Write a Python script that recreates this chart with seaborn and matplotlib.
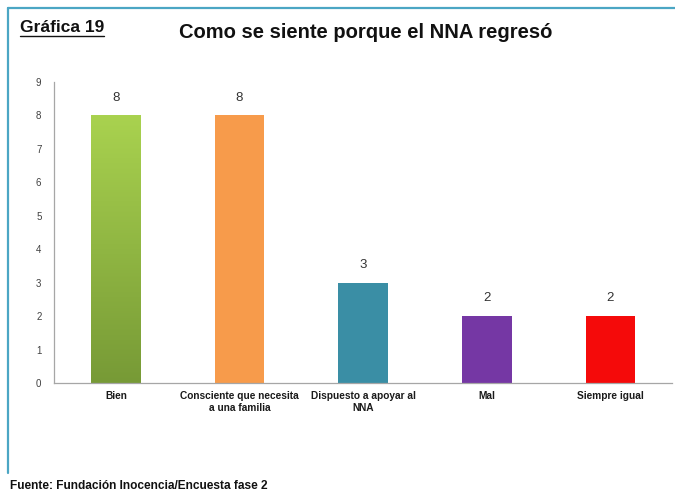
import numpy as np
import pandas as pd
import matplotlib
matplotlib.use("Agg")
import matplotlib.pyplot as plt
from matplotlib.lines import Line2D
import seaborn as sns

categories = ["Bien", "Consciente que necesita\na una familia", "Dispuesto a apoyar al\nNNA", "Mal", "Siempre igual"]
values = [8, 8, 3, 2, 2]
colors = ["#8DB33F", "#F79B4B", "#3A8EA5", "#7537A4", "#F50A0A"]
y_ticks = list(range(0, 10))

sns.set_theme(style="white")
plt.rcParams["font.family"] = ["Liberation Sans", "DejaVu Sans"]

fig = plt.figure(figsize=(6.75, 4.94), dpi=100)
ax = fig.add_axes([0.08, 0.2247, 0.916, 0.6093])

df = pd.DataFrame({"cat": categories, "val": values})
sns.barplot(data=df, x="cat", y="val", hue="cat", palette=colors, legend=False,
            width=0.4, ax=ax, saturation=1)

# vertical gradient on the first bar
for i, patch in enumerate(ax.patches):
    patch.set_edgecolor("none")
    if i == 0:
        x0, y0 = patch.get_x(), patch.get_y()
        w, h = patch.get_width(), patch.get_height()
        top = np.array(matplotlib.colors.to_rgb("#A9D24F"))
        bot = np.array(matplotlib.colors.to_rgb("#779A36"))
        t = np.linspace(1, 0, 256)[:, None]
        grad = (t * top + (1 - t) * bot)[:, None, :].repeat(2, axis=1)
        im = ax.imshow(grad, extent=[x0, x0 + w, y0, y0 + h], aspect="auto",
                       origin="upper", zorder=patch.get_zorder() + 0.1)
        im.set_clip_path(patch)

ax.set_xlim(-0.5, len(categories) - 0.5)
ax.set_ylim(0, 9)
ax.set_yticks(y_ticks)
ax.set_yticklabels([str(v) for v in y_ticks], fontsize=7, color="#404040")
ax.tick_params(axis="y", length=0, pad=9)
ax.tick_params(axis="x", length=0, pad=6)
for lbl in ax.get_xticklabels():
    lbl.set_fontsize(7.3)
    lbl.set_fontweight("bold")
    lbl.set_color("#1a1a1a")
ax.set_xlabel("")
ax.set_ylabel("")

for s in ["top", "right"]:
    ax.spines[s].set_visible(False)
for s in ["left", "bottom"]:
    ax.spines[s].set_color("#A6A6A6")
    ax.spines[s].set_linewidth(0.9)

for i, v in enumerate(values):
    ax.text(i, v + 0.35, str(v), ha="center", va="bottom", fontsize=9.5, color="#333333")

# page frame
frame_color = "#4BA6C4"
fig.add_artist(Line2D([8 / 675, 8 / 675], [1 - 8 / 494, 1 - 473 / 494], color=frame_color, lw=1.6,
                      transform=fig.transFigure))
fig.add_artist(Line2D([8 / 675, 1.0], [1 - 8 / 494, 1 - 8 / 494], color=frame_color, lw=1.6,
                      transform=fig.transFigure))

fig.text(366 / 675, 1 - 33 / 494, "Como se siente porque el NNA regresó", ha="center", va="center",
         fontsize=14.5, fontweight="bold", color="#111111")
lab = fig.text(20 / 675, 1 - 27 / 494, "Gráfica 19", ha="left", va="center",
               fontsize=12.5, fontweight="bold", color="#111111")
fig.canvas.draw()
bb = lab.get_window_extent().transformed(fig.transFigure.inverted())
fig.add_artist(Line2D([bb.x0, bb.x1], [bb.y0 - 0.004, bb.y0 - 0.004], color="#111111", lw=1.0,
                      transform=fig.transFigure))

fig.text(10 / 675, 1 - 486 / 494, "Fuente: Fundación Inocencia/Encuesta fase 2", ha="left", va="center",
         fontsize=8.6, fontweight="bold", color="#111111")

fig.savefig("out.png", dpi=100)
